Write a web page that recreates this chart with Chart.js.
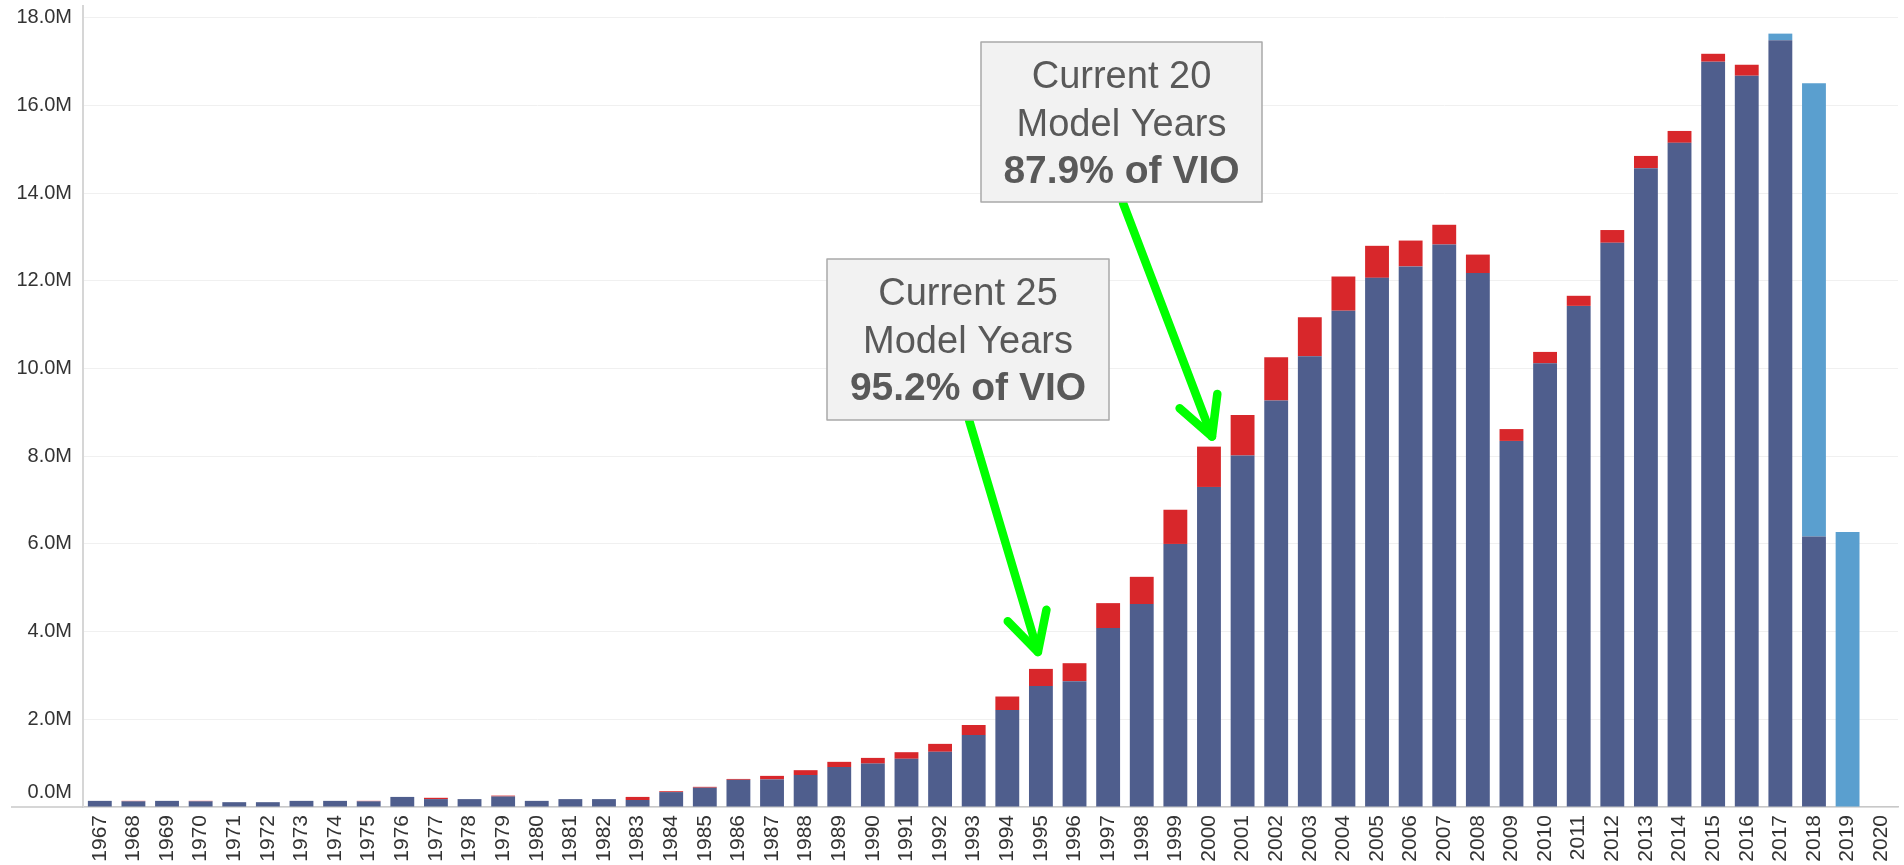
<!DOCTYPE html>
<html>
<head>
<meta charset="utf-8">
<script src="https://cdn.jsdelivr.net/npm/chart.js@4.4.1/dist/chart.umd.min.js"></script>
<style>
html,body{margin:0;padding:0;background:#fff;overflow:hidden}
#wrap{position:relative;width:1904px;height:865px}
</style>
</head>
<body>
<div id="wrap"><canvas id="c"></canvas></div>
<script>
// ---- data (millions of vehicles) ----
const years = ['1967','1968','1969','1970','1971','1972','1973','1974','1975','1976',
  '1977','1978','1979','1980','1981','1982','1983','1984','1985','1986',
  '1987','1988','1989','1990','1991','1992','1993','1994','1995','1996',
  '1997','1998','1999','2000','2001','2002','2003','2004','2005','2006',
  '2007','2008','2009','2010','2011','2012','2013','2014','2015','2016',
  '2017','2018','2019','2020'];

const currentVio = [0.14,0.13,0.14,0.13,0.11,0.11,0.14,0.14,0.13,0.23,
  0.18,0.18,0.24,0.14,0.18,0.18,0.16,0.34,0.44,0.62,
  0.63,0.73,0.91,0.99,1.10,1.26,1.64,2.21,2.76,2.87,
  4.08,4.63,6.00,7.30,8.02,9.27,10.28,11.32,12.07,12.33,
  12.83,12.18,8.35,10.12,11.43,12.87,14.57,15.15,17.00,16.68,
  17.49,6.17,0,0];

const scrappedVio = [0,0.01,0,0.01,0,0,0,0,0.01,0,
  0.03,0,0.02,0,0,0,0.07,0.02,0.02,0.02,
  0.08,0.11,0.12,0.13,0.15,0.18,0.23,0.31,0.39,0.41,
  0.57,0.62,0.78,0.92,0.92,0.99,0.89,0.78,0.73,0.59,
  0.45,0.42,0.27,0.26,0.23,0.29,0.28,0.27,0.18,0.25,
  0,0,0,0];

const newSales = [0,0,0,0,0,0,0,0,0,0,
  0,0,0,0,0,0,0,0,0,0,
  0,0,0,0,0,0,0,0,0,0,
  0,0,0,0,0,0,0,0,0,0,
  0,0,0,0,0,0,0,0,0,0,
  0.15,10.34,6.27,0];

const yTickValues = [0,2,4,6,8,10,12,14,16,18];
const yMax = 18.27;

const calloutTexts = [
  ['Current 20','Model Years','87.9% of VIO'],
  ['Current 25','Model Years','95.2% of VIO']
];
const calloutTargets = ['2000','1995'];

// ---- annotation layout (pixels) ----
const calloutLayout = [
  {box:{x:981,y:42,w:281,h:160}, from:{x:1123,y:203}, dx:3, gap:10},
  {box:{x:827,y:259,w:282,h:161}, from:{x:969,y:420}, dx:-3, gap:17}
];

const FONT = '"Liberation Sans", Arial, sans-serif';
Chart.defaults.font.family = FONT;

const calloutPlugin = {
  id: 'callouts',
  afterDraw(chart) {
    const {ctx, chartArea} = chart;
    const xs = chart.scales.x, ys = chart.scales.y;
    ctx.save();
    // baseline extension to the left of the y axis
    const y0 = ys.getPixelForValue(0);
    ctx.strokeStyle = '#c8c8c8';
    ctx.lineWidth = 1.5;
    ctx.beginPath();
    ctx.moveTo(11, y0);
    ctx.lineTo(chartArea.left, y0);
    ctx.stroke();

    // arrows
    calloutLayout.forEach((c, k) => {
      const i = years.indexOf(calloutTargets[k]);
      const total = currentVio[i] + scrappedVio[i] + newSales[i];
      const tx = xs.getPixelForValue(i) + c.dx;
      const ty = ys.getPixelForValue(total) - c.gap;
      ctx.strokeStyle = '#00ff00';
      ctx.lineWidth = 8.5;
      ctx.lineCap = 'round';
      ctx.lineJoin = 'round';
      ctx.beginPath();
      ctx.moveTo(c.from.x, c.from.y);
      ctx.lineTo(tx, ty);
      ctx.stroke();
      const ang = Math.atan2(c.from.y - ty, c.from.x - tx);
      const L = 43, a = 28 * Math.PI / 180;
      ctx.beginPath();
      ctx.moveTo(tx + L * Math.cos(ang - a), ty + L * Math.sin(ang - a));
      ctx.lineTo(tx, ty);
      ctx.lineTo(tx + L * Math.cos(ang + a), ty + L * Math.sin(ang + a));
      ctx.stroke();
    });

    // boxes
    calloutLayout.forEach((c, k) => {
      const b = c.box;
      ctx.fillStyle = '#f2f2f2';
      ctx.fillRect(b.x, b.y, b.w, b.h);
      ctx.strokeStyle = '#a9a9a9';
      ctx.lineWidth = 1.5;
      ctx.strokeRect(b.x, b.y, b.w, b.h);
      const cx = b.x + b.w / 2;
      const lines = calloutTexts[k];
      ctx.fillStyle = '#595959';
      ctx.textAlign = 'center';
      ctx.textBaseline = 'alphabetic';
      ctx.font = '38px ' + FONT;
      ctx.fillText(lines[0], cx, b.y + 45.5);
      ctx.fillText(lines[1], cx, b.y + 94);
      ctx.font = 'bold 39px ' + FONT;
      ctx.fillText(lines[2], cx, b.y + 140.5);
    });
    ctx.restore();
  }
};

new Chart(document.getElementById('c'), {
  type: 'bar',
  data: {
    labels: years,
    datasets: [
      {label: 'Current VIO', data: currentVio, backgroundColor: '#4f5e8d', borderWidth: 0},
      {label: 'Scrapped', data: scrappedVio, backgroundColor: '#d8272b', borderWidth: 0},
      {label: 'New', data: newSales, backgroundColor: '#5a9fcf', borderWidth: 0}
    ]
  },
  options: {
    responsive: true,
    maintainAspectRatio: false,
    animation: false,
    events: [],
    layout: {padding: {top: 6, right: 6, left: 0, bottom: 0}},
    datasets: {bar: {categoryPercentage: 1, barPercentage: 0.71}},
    plugins: {legend: {display: false}, tooltip: {enabled: false}},
    scales: {
      x: {
        stacked: true,
        grid: {display: false, drawTicks: false},
        border: {display: true, color: '#c8c8c8', width: 1.5},
        ticks: {
          autoSkip: false, minRotation: 90, maxRotation: 90, padding: 8,
          color: '#333333', font: {size: 21}
        },
        afterFit(scale) { scale.height = 58; scale.paddingLeft = 0; scale.paddingRight = 0; }
      },
      y: {
        stacked: true,
        min: 0,
        max: yMax,
        grid: {color: '#f0f0f0', lineWidth: 1, drawTicks: false},
        border: {display: true, color: '#d6d6d6', width: 2},
        ticks: {
          stepSize: 2, padding: 11, color: '#333333',
          font: {size: 20, lineHeight: 1.5},
          callback: (v) => v === 0 ? ['0.0M', ''] : v.toFixed(1) + 'M'
        },
        afterBuildTicks(scale) {
          scale.ticks = yTickValues.map(v => ({value: v}));
        },
        afterFit(scale) { scale.width = 83; scale.paddingTop = 0; scale.paddingBottom = 0; }
      }
    }
  },
  plugins: [calloutPlugin]
});
</script>
</body>
</html>
